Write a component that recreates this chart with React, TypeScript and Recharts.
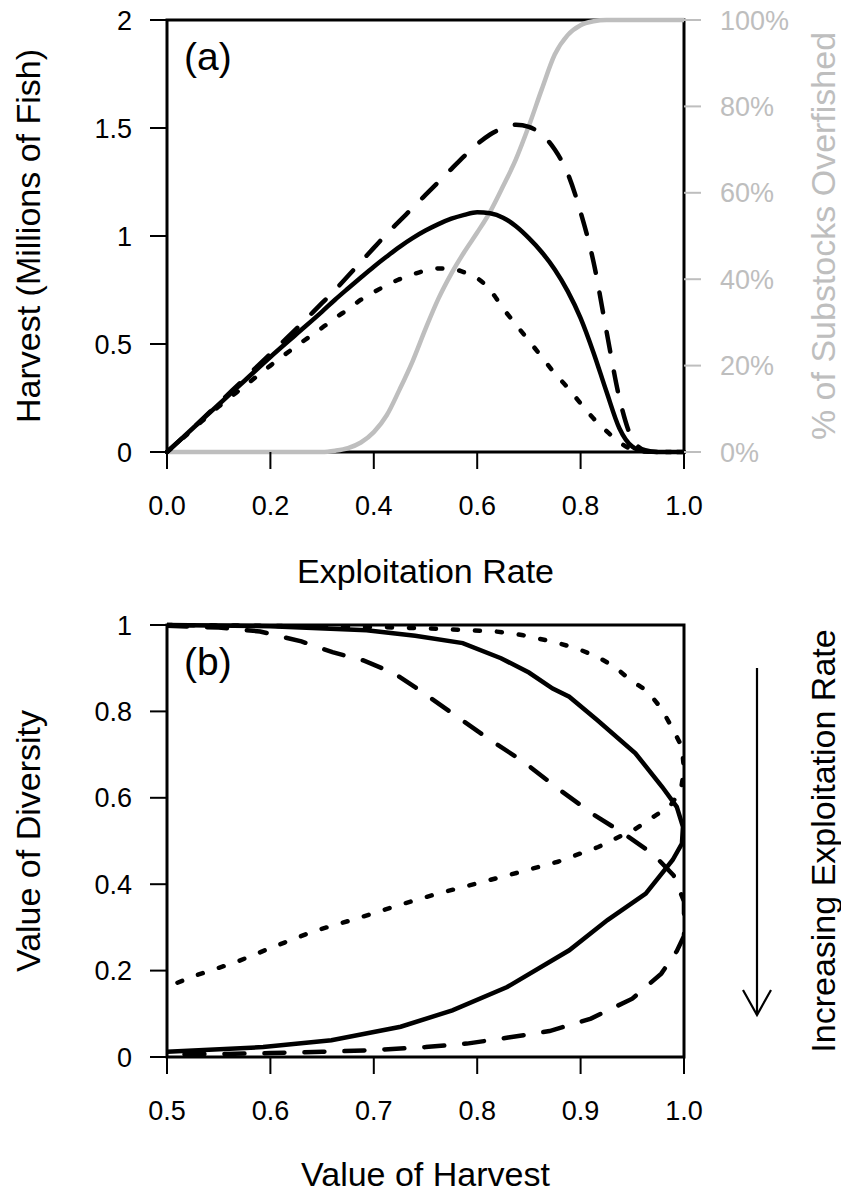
import { LineChart, Line, XAxis, YAxis, ReferenceArea } from "recharts";

const FONT = "'Liberation Sans', Arial, Helvetica, sans-serif";
const GREY = "#bebebe";

// layout (px)
const WIDTH = 841;
const LEFT_AXIS_W = 167;
const RIGHT_AXIS_W = 157;
const PLOT_H = 432;
const TOP_A = 20;
const CHART_A_H = 600;
const TOP_B = 25;
const CHART_B_H = 594;

// ---- panel (a): harvest and overfished share vs exploitation rate ----
const rate = [
  0, 0.05, 0.1, 0.15, 0.2, 0.25, 0.3, 0.325, 0.35, 0.375, 0.4, 0.425, 0.45, 0.475, 0.5, 0.525, 0.55,
  0.575, 0.6, 0.625, 0.65, 0.675, 0.7, 0.725, 0.75, 0.775, 0.8, 0.825, 0.85, 0.875, 0.9, 0.925, 0.95, 1.0,
];
const harvestSolid = [
  0, 0.11, 0.22, 0.33, 0.44, 0.545, 0.65, 0.705, 0.757, 0.808, 0.858, 0.905, 0.95, 0.99, 1.025, 1.055, 1.08,
  1.098, 1.11, 1.105, 1.085, 1.045, 0.99, 0.925, 0.845, 0.745, 0.62, 0.46, 0.28, 0.11, 0.025, 0.003, 0, 0,
];
const harvestDashed = [
  0, 0.11, 0.225, 0.34, 0.455, 0.57, 0.69, 0.75, 0.815, 0.88, 0.945, 1.01, 1.07, 1.13, 1.19, 1.25, 1.31,
  1.37, 1.425, 1.47, 1.5, 1.515, 1.505, 1.47, 1.4, 1.29, 1.11, 0.88, 0.56, 0.25, 0.06, 0.008, 0, 0,
];
const harvestDotted = [
  0, 0.105, 0.21, 0.305, 0.4, 0.49, 0.575, 0.62, 0.66, 0.705, 0.74, 0.772, 0.8, 0.822, 0.84, 0.85, 0.848,
  0.832, 0.805, 0.75, 0.665, 0.59, 0.515, 0.44, 0.364, 0.298, 0.225, 0.155, 0.097, 0.045, 0.012, 0.002, 0, 0,
];
const overfishedPct = [
  0, 0, 0, 0, 0, 0, 0, 0.3, 0.9, 2.2, 4.6, 8.5, 14.5, 21, 28.5, 35.5, 41.3,
  46.3, 50.8, 55.6, 61.5, 67.8, 75.5, 84, 92, 96.5, 98.8, 99.7, 100, 100, 100, 100, 100, 100,
];
const rateTicks = [0, 0.2, 0.4, 0.6, 0.8, 1.0];
const harvestTicks = [0, 0.5, 1, 1.5, 2];
const pctTicks = [0, 20, 40, 60, 80, 100];

// ---- panel (b): diversity value vs harvest value, traced along exploitation rate ----
const solidHarvest = [
  0.5, 0.6, 0.693, 0.74, 0.786, 0.823, 0.85, 0.873, 0.889, 0.916, 0.953, 0.979, 0.993, 0.999, 0.998, 0.989,
  0.963, 0.926, 0.889, 0.829, 0.776, 0.726, 0.659, 0.593, 0.5,
];
const solidDiversity = [
  1.0, 0.997, 0.988, 0.975, 0.958, 0.923, 0.89, 0.853, 0.834, 0.78, 0.703, 0.625, 0.579, 0.533, 0.494, 0.456,
  0.378, 0.317, 0.247, 0.162, 0.108, 0.07, 0.039, 0.023, 0.012,
];
const dashedHarvest = [
  0.5, 0.55, 0.59, 0.63, 0.66, 0.69, 0.72, 0.745, 0.775, 0.81, 0.845, 0.88, 0.912, 0.94, 0.97, 0.99, 1.0, 1.0,
  0.993, 0.978, 0.95, 0.91, 0.87, 0.83, 0.79, 0.75, 0.7, 0.65, 0.6, 0.55, 0.5,
];
const dashedDiversity = [
  0.998, 0.994, 0.985, 0.962, 0.937, 0.918, 0.888, 0.848, 0.797, 0.738, 0.683, 0.618, 0.562, 0.52, 0.47, 0.42,
  0.36, 0.28, 0.245, 0.193, 0.135, 0.089, 0.06, 0.045, 0.031, 0.023, 0.016, 0.012, 0.009, 0.007, 0.006,
];
const dottedHarvest = [
  0.5, 0.6, 0.709, 0.753, 0.788, 0.818, 0.843, 0.874, 0.896, 0.916, 0.933, 0.948, 0.965, 0.978, 0.988, 0.998,
  1.0, 0.997, 0.986, 0.973, 0.953, 0.917, 0.878, 0.838, 0.8, 0.76, 0.722, 0.683, 0.643, 0.605, 0.566, 0.528, 0.505,
];
const dottedDiversity = [
  1.0, 0.998, 0.995, 0.992, 0.988, 0.985, 0.977, 0.961, 0.946, 0.927, 0.903, 0.873, 0.846, 0.807, 0.764, 0.718,
  0.664, 0.618, 0.579, 0.56, 0.528, 0.486, 0.452, 0.426, 0.402, 0.377, 0.35, 0.32, 0.292, 0.257, 0.219, 0.189, 0.167,
];
const harvestValueTicks = [0.5, 0.6, 0.7, 0.8, 0.9, 1.0];
const diversityTicks = [0, 0.2, 0.4, 0.6, 0.8, 1];

const panelARows = rate.map((r, i) => ({
  rate: r,
  solid: harvestSolid[i],
  dashed: harvestDashed[i],
  dotted: harvestDotted[i],
  overfished: overfishedPct[i],
}));

const toPoints = (h: number[], d: number[]) => h.map((v, i) => ({ harvest: v, diversity: d[i] }));
const solidPath = toPoints(solidHarvest, solidDiversity);
const dashedPath = toPoints(dashedHarvest, dashedDiversity);
const dottedPath = toPoints(dottedHarvest, dottedDiversity);

const tickText = { fontSize: 27, fill: "#000", fontFamily: FONT };
const tickStroke = { stroke: "#000", strokeWidth: 2 };
const LINE_W = 4.5;

// rotated axis titles (read bottom to top)
function SideTitle({ caption, plotTop, baseX, tone = "#000" }: any) {
  const cy = plotTop + PLOT_H / 2;
  return (
    <text
      x={baseX}
      y={cy}
      transform={`rotate(-90 ${baseX} ${cy})`}
      textAnchor="middle"
      fontSize={34}
      fontFamily={FONT}
      fill={tone}
    >
      {caption}
    </text>
  );
}

function BottomTitle({ caption, baseY }: any) {
  const cx = (LEFT_AXIS_W + (WIDTH - RIGHT_AXIS_W)) / 2;
  return (
    <text x={cx} y={baseY} textAnchor="middle" fontSize={34} fontFamily={FONT} fill="#000">
      {caption}
    </text>
  );
}

function PanelTag({ tag, plotTop }: any) {
  return (
    <text x={LEFT_AXIS_W + 17} y={plotTop + 50} fontSize={39} fontFamily={FONT} fill="#000">
      {tag}
    </text>
  );
}

// downward arrow with caption beside panel (b)
function ArrowNote({ plotTop }: any) {
  const ax = 757;
  const y0 = plotTop + 43;
  const y1 = plotTop + 390;
  return (
    <g>
      <line x1={ax} y1={y0} x2={ax} y2={y1} stroke="#000" strokeWidth={2.2} />
      <polyline
        points={`${ax - 14},${y1 - 25} ${ax},${y1} ${ax + 14},${y1 - 25}`}
        fill="none"
        stroke="#000"
        strokeWidth={2.2}
      />
      <SideTitle caption="Increasing Exploitation Rate" plotTop={plotTop} baseX={835} />
    </g>
  );
}

export default function App() {
  return (
    <div style={{ position: "absolute", left: 0, top: 0, width: WIDTH, height: 1194, background: "#fff" }}>
      <LineChart
        width={WIDTH}
        height={CHART_A_H}
        data={panelARows}
        margin={{ top: TOP_A, right: 0, bottom: 0, left: 0 }}
      >
        <XAxis
          dataKey="rate"
          type="number"
          domain={[0, 1]}
          ticks={rateTicks}
          interval={0}
          tickFormatter={(v: number) => v.toFixed(1)}
          tick={tickText}
          tickLine={tickStroke}
          tickSize={17}
          tickMargin={27}
          axisLine={false}
          height={CHART_A_H - TOP_A - PLOT_H}
          label={<BottomTitle caption="Exploitation Rate" baseY={TOP_A + PLOT_H + 131} />}
        />
        <YAxis
          yAxisId="left"
          type="number"
          domain={[0, 2]}
          ticks={harvestTicks}
          interval={0}
          tickFormatter={(v: number) => String(v)}
          tick={tickText}
          tickLine={tickStroke}
          tickSize={17}
          tickMargin={18}
          axisLine={false}
          width={LEFT_AXIS_W}
          label={<SideTitle caption="Harvest (Millions of Fish)" plotTop={TOP_A} baseX={40} />}
        />
        <YAxis
          yAxisId="right"
          orientation="right"
          type="number"
          domain={[0, 100]}
          ticks={pctTicks}
          interval={0}
          tickFormatter={(v: number) => `${v}%`}
          tick={{ ...tickText, fill: GREY }}
          tickLine={{ stroke: GREY, strokeWidth: 2 }}
          tickSize={17}
          tickMargin={19}
          axisLine={false}
          width={RIGHT_AXIS_W}
          label={<SideTitle caption="% of Substocks Overfished" plotTop={TOP_A} baseX={835} tone={GREY} />}
        />
        <Line
          yAxisId="right"
          type="monotone"
          dataKey="overfished"
          stroke={GREY}
          strokeWidth={LINE_W}
          dot={false}
          activeDot={false}
          isAnimationActive={false}
        />
        <Line
          yAxisId="left"
          type="monotone"
          dataKey="dotted"
          stroke="#000"
          strokeWidth={LINE_W}
          strokeDasharray="5 17"
          strokeLinecap="round"
          dot={false}
          activeDot={false}
          isAnimationActive={false}
        />
        <Line
          yAxisId="left"
          type="monotone"
          dataKey="dashed"
          stroke="#000"
          strokeWidth={LINE_W}
          strokeDasharray="20 20"
          strokeLinecap="round"
          dot={false}
          activeDot={false}
          isAnimationActive={false}
        />
        <Line
          yAxisId="left"
          type="monotone"
          dataKey="solid"
          stroke="#000"
          strokeWidth={LINE_W}
          dot={false}
          activeDot={false}
          isAnimationActive={false}
        />
        <ReferenceArea
          yAxisId="left"
          x1={0}
          x2={1}
          y1={0}
          y2={2}
          fill="none"
          stroke="#000"
          strokeWidth={3}
          ifOverflow="visible"
          label={<PanelTag tag="(a)" plotTop={TOP_A} />}
        />
      </LineChart>

      <LineChart width={WIDTH} height={CHART_B_H} margin={{ top: TOP_B, right: 0, bottom: 0, left: 0 }}>
        <XAxis
          dataKey="harvest"
          type="number"
          domain={[0.5, 1]}
          ticks={harvestValueTicks}
          interval={0}
          allowDataOverflow
          tickFormatter={(v: number) => v.toFixed(1)}
          tick={tickText}
          tickLine={tickStroke}
          tickSize={17}
          tickMargin={27}
          axisLine={false}
          height={CHART_B_H - TOP_B - PLOT_H}
          label={<BottomTitle caption="Value of Harvest" baseY={TOP_B + PLOT_H + 129} />}
        />
        <YAxis
          yAxisId="left"
          type="number"
          domain={[0, 1]}
          ticks={diversityTicks}
          interval={0}
          tickFormatter={(v: number) => String(v)}
          tick={tickText}
          tickLine={tickStroke}
          tickSize={17}
          tickMargin={18}
          axisLine={false}
          width={LEFT_AXIS_W}
          label={<SideTitle caption="Value of Diversity" plotTop={TOP_B} baseX={40} />}
        />
        <YAxis
          yAxisId="note"
          orientation="right"
          type="number"
          domain={[0, 1]}
          tick={false}
          tickLine={false}
          axisLine={false}
          width={RIGHT_AXIS_W}
          label={<ArrowNote plotTop={TOP_B} />}
        />
        <Line
          yAxisId="left"
          data={dottedPath}
          type="linear"
          dataKey="diversity"
          stroke="#000"
          strokeWidth={LINE_W}
          strokeDasharray="5 17"
          strokeLinecap="round"
          dot={false}
          activeDot={false}
          isAnimationActive={false}
        />
        <Line
          yAxisId="left"
          data={dashedPath}
          type="linear"
          dataKey="diversity"
          stroke="#000"
          strokeWidth={LINE_W}
          strokeDasharray="20 20"
          strokeLinecap="round"
          dot={false}
          activeDot={false}
          isAnimationActive={false}
        />
        <Line
          yAxisId="left"
          data={solidPath}
          type="linear"
          dataKey="diversity"
          stroke="#000"
          strokeWidth={LINE_W}
          dot={false}
          activeDot={false}
          isAnimationActive={false}
        />
        <ReferenceArea
          yAxisId="left"
          x1={0.5}
          x2={1}
          y1={0}
          y2={1}
          fill="none"
          stroke="#000"
          strokeWidth={3}
          ifOverflow="visible"
          label={<PanelTag tag="(b)" plotTop={TOP_B} />}
        />
      </LineChart>
    </div>
  );
}
